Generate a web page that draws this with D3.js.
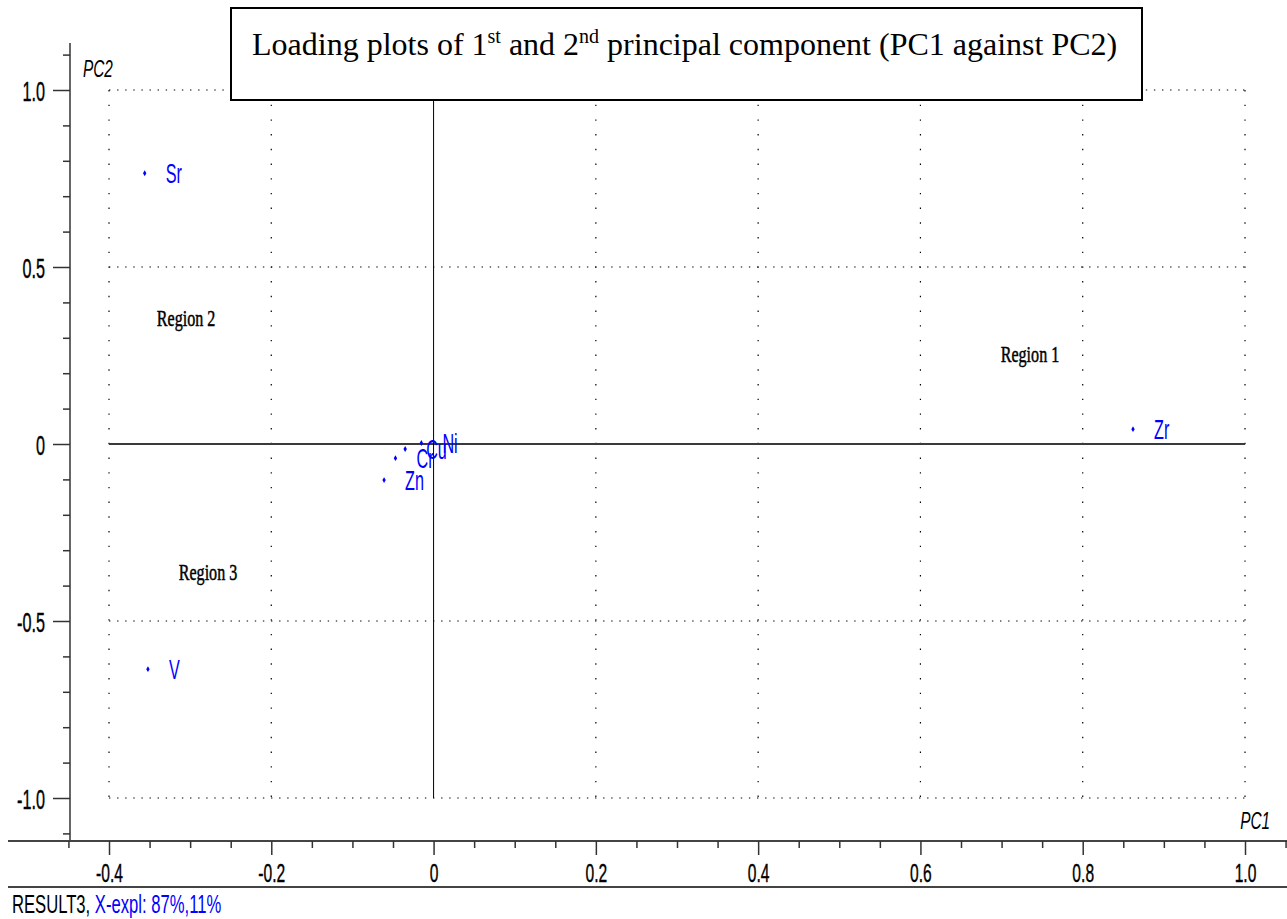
<!DOCTYPE html>
<html>
<head>
<meta charset="utf-8">
<script src="https://cdn.jsdelivr.net/npm/d3@7/dist/d3.min.js"></script>
<style>
  html, body { margin: 0; padding: 0; background: #fff; }
  svg { display: block; }
</style>
</head>
<body>
<svg id="chart" width="1287" height="919"></svg>
<script>
// Loadings of each element on PC1 and PC2
const elements = ["Sr", "V", "Zr", "Zn", "Cr", "Cu", "Ni"];
const pc1 = [-0.356, -0.352, 0.862, -0.061, -0.047, -0.035, -0.015];
const pc2 = [0.765, -0.636, 0.042, -0.102, -0.040, -0.014, 0.003];

// Region annotations
const regionNames = ["Region 1", "Region 2", "Region 3"];
const regionPC1 = [0.735, -0.305, -0.278];
const regionPC2 = [0.235, 0.335, -0.380];

// Axis ticks
const xMajor = [-0.4, -0.2, 0, 0.2, 0.4, 0.6, 0.8, 1.0];
const xMinor = [-0.45, -0.35, -0.3, -0.25, -0.15, -0.1, -0.05, 0.05, 0.1, 0.15, 0.25, 0.3, 0.35,
                0.45, 0.5, 0.55, 0.65, 0.7, 0.75, 0.85, 0.9, 0.95, 1.05];
const yMajor = [-1.0, -0.5, 0, 0.5, 1.0];
const yMinor = [-1.1, -0.9, -0.8, -0.7, -0.6, -0.4, -0.3, -0.2, -0.1, 0.1, 0.2, 0.3, 0.4,
                0.6, 0.7, 0.8, 0.9, 1.1];
const xGrid = [-0.4, -0.2, 0.2, 0.4, 0.6, 0.8, 1.0];
const yGrid = [-1.0, -0.5, 0.5, 1.0];

const svg = d3.select("#chart");
const x = d3.scaleLinear().domain([-0.4, 1.0]).range([109, 1245]);
const y = d3.scaleLinear().domain([-1, 1]).range([798, 90]);

const axisX0 = 70;   // y axis position
const axisY0 = 841;  // x axis position
const fmt = d => d === 0 ? "0" : d.toFixed(1);
const SANS = "'Liberation Sans', Arial, sans-serif";
const SERIF = "'Liberation Serif', 'Times New Roman', serif";

// narrow sans text helper
function narrow(sel, px, py, str, o) {
  o = o || {};
  const t = sel.append("text")
    .attr("transform", `translate(${px},${py}) scale(${o.sx || 0.6},1)`)
    .attr("font-family", o.family || SANS)
    .attr("font-size", o.size || 24)
    .attr("font-style", o.style || "normal")
    .attr("font-weight", o.weight || "normal")
    .attr("text-anchor", o.anchor || "start")
    .attr("fill", o.fill || "#000")
    .text(str);
  if (o.stroke) t.attr("stroke", o.fill || "#000").attr("stroke-width", o.stroke);
  return t;
}

// dotted grid
const grid = svg.append("g");
grid.selectAll("line.v").data(xGrid).join("line")
  .attr("x1", d => x(d)).attr("x2", d => x(d))
  .attr("y1", y(1)).attr("y2", y(-1))
  .attr("stroke", "#000").attr("stroke-width", 1.2)
  .attr("stroke-dasharray", "1.4 13.3");
grid.selectAll("line.h").data(yGrid).join("line")
  .attr("x1", x(-0.4)).attr("x2", x(1.0))
  .attr("y1", d => y(d)).attr("y2", d => y(d))
  .attr("stroke", "#000").attr("stroke-width", 1.2)
  .attr("stroke-dasharray", "1.4 6.7");

// zero lines
svg.append("line")
  .attr("x1", x(-0.4)).attr("x2", x(1.0)).attr("y1", y(0)).attr("y2", y(0))
  .attr("stroke", "#3a3a3a").attr("stroke-width", 2.2);
svg.append("line")
  .attr("x1", x(0)).attr("x2", x(0)).attr("y1", y(1)).attr("y2", y(-1))
  .attr("stroke", "#000").attr("stroke-width", 1);

// y axis
svg.append("line").attr("x1", axisX0).attr("x2", axisX0).attr("y1", 43).attr("y2", axisY0)
  .attr("stroke", "#333").attr("stroke-width", 1.5);
const gyMinor = svg.append("g").attr("transform", `translate(${axisX0},0)`)
  .call(d3.axisLeft(y).tickValues(yMinor).tickSize(7).tickFormat(""));
const gyMajor = svg.append("g").attr("transform", `translate(${axisX0},0)`)
  .call(d3.axisLeft(y).tickValues(yMajor).tickSize(17).tickFormat(fmt));
[gyMinor, gyMajor].forEach(g => {
  g.select(".domain").remove();
  g.selectAll(".tick line").attr("stroke", "#333").attr("stroke-width", 1.5);
});
gyMajor.selectAll(".tick text")
  .attr("x", null).attr("dy", null)
  .attr("transform", "translate(-25,10) scale(0.6,1)")
  .attr("font-family", SANS).attr("font-size", 27).attr("fill", "#000")
  .attr("stroke", "#000").attr("stroke-width", 0.4)
  .attr("text-anchor", "end");

// x axis
svg.append("line").attr("x1", 8).attr("x2", 1287).attr("y1", axisY0).attr("y2", axisY0)
  .attr("stroke", "#444").attr("stroke-width", 2);
const gxMinor = svg.append("g").attr("transform", `translate(0,${axisY0})`)
  .call(d3.axisBottom(x).tickValues(xMinor).tickSize(7).tickFormat(""));
const gxMajor = svg.append("g").attr("transform", `translate(0,${axisY0})`)
  .call(d3.axisBottom(x).tickValues(xMajor).tickSize(14).tickFormat(fmt));
[gxMinor, gxMajor].forEach(g => {
  g.select(".domain").remove();
  g.selectAll(".tick line").attr("stroke", "#333").attr("stroke-width", 1.5);
});
gxMajor.selectAll(".tick text")
  .attr("y", null).attr("dy", null)
  .attr("transform", "translate(0,41) scale(0.6,1)")
  .attr("font-family", SANS).attr("font-size", 26).attr("fill", "#000")
  .attr("stroke", "#000").attr("stroke-width", 0.4)
  .attr("text-anchor", "middle");

// bottom rule and caption
svg.append("line").attr("x1", 8).attr("x2", 1287).attr("y1", 887).attr("y2", 887)
  .attr("stroke", "#444").attr("stroke-width", 2);
const cap = svg.append("text")
  .attr("transform", "translate(12,913) scale(0.64,1)")
  .attr("font-family", SANS).attr("font-size", 26);
cap.append("tspan").attr("fill", "#000").text("RESULT3, ");
cap.append("tspan").attr("fill", "#0000ff").text("X-expl: 87%,11%");

// axis titles
narrow(svg, 83, 77, "PC2", { size: 24, style: "italic", sx: 0.64 });
narrow(svg, 1270, 829, "PC1", { size: 24, style: "italic", sx: 0.64, anchor: "end" });

// region annotations
regionNames.forEach((r, i) => {
  narrow(svg, x(regionPC1[i]), y(regionPC2[i]) + 1, r,
    { family: SERIF, size: 23, sx: 0.7, anchor: "middle", stroke: 0.5 });
});

// loading points and element labels
const pts = elements.map((e, i) => ({ name: e, a: pc1[i], b: pc2[i] }));
svg.append("g").selectAll("path").data(pts).join("path")
  .attr("transform", d => `translate(${x(d.a)},${y(d.b)})`)
  .attr("d", d3.symbol(d3.symbolDiamond, 10))
  .attr("fill", "#0000ff");
const lab = svg.append("g");
pts.forEach(d => {
  narrow(lab, x(d.a) + 21, y(d.b) + 10, d.name, { size: 27, sx: 0.6, fill: "#0000ff" });
});

// title box
svg.append("rect").attr("x", 231).attr("y", 8).attr("width", 911).attr("height", 92)
  .attr("fill", "#fff").attr("stroke", "#000").attr("stroke-width", 2);
const t = svg.append("text").attr("x", 252).attr("y", 55)
  .attr("font-family", SERIF).attr("font-size", 32).attr("fill", "#000");
t.append("tspan").text("Loading plots of 1");
t.append("tspan").attr("dy", -12).attr("font-size", 20).text("st");
t.append("tspan").attr("dy", 12).text(" and 2");
t.append("tspan").attr("dy", -12).attr("font-size", 20).text("nd");
t.append("tspan").attr("dy", 12).text(" principal component (PC1 against PC2)");
</script>
</body>
</html>
